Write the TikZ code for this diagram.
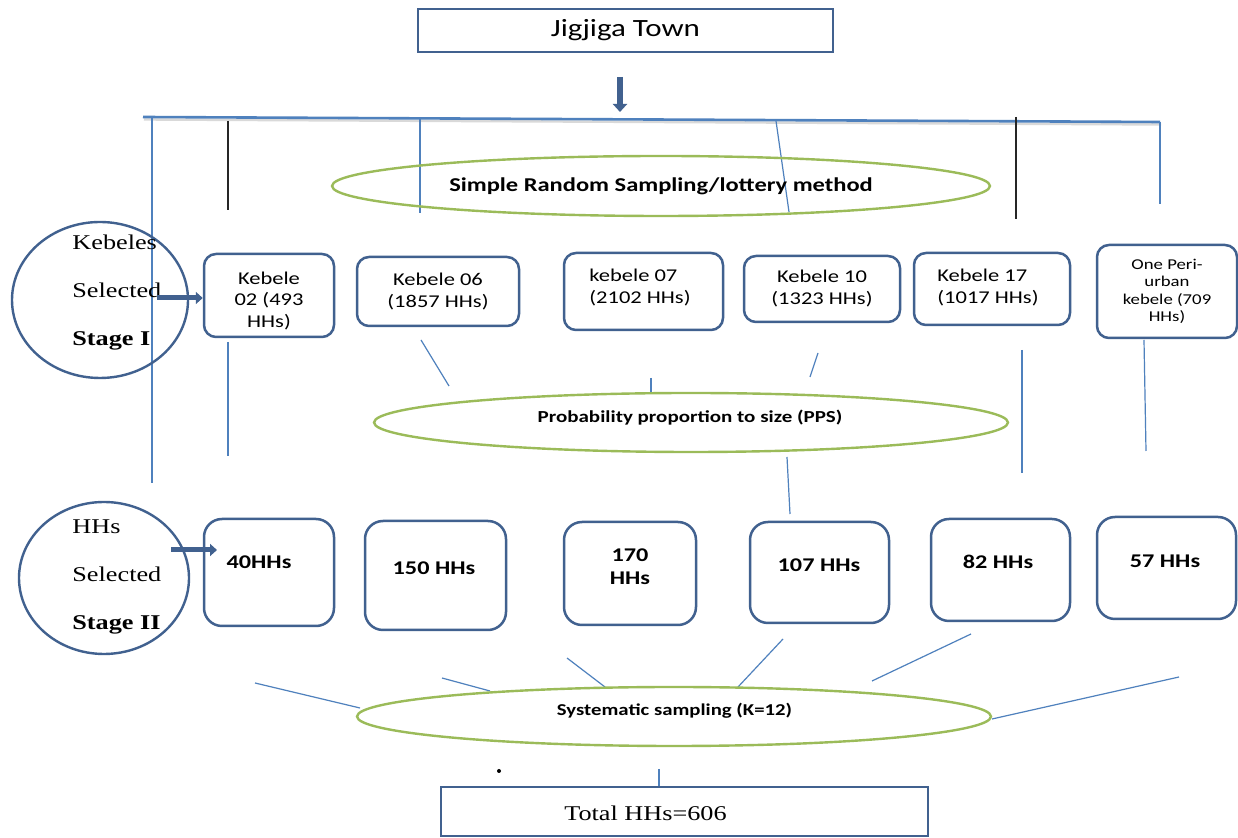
\documentclass[tikz,border=0pt]{standalone}
\usepackage{fontspec}
\setmainfont{Liberation Serif}[FakeStretch=1.25]
\newfontfamily\calfont{Carlito}[FakeStretch=1.25]
\usetikzlibrary{arrows.meta,shapes.geometric}
\definecolor{boxblue}{HTML}{41618F}
\definecolor{lineblue}{HTML}{4F81BD}
\definecolor{ellgreen}{HTML}{9BBB59}
\begin{document}
\begin{tikzpicture}[x=0.5pt,y=-0.5pt,
  kbox/.style={draw=boxblue,line width=1.25pt,rounded corners=6pt,inner sep=0pt,align=center,font=\calfont\fontsize{9}{11}\selectfont},
  hbox/.style={draw=boxblue,line width=1.25pt,rounded corners=9pt,inner sep=0pt},
  htext/.style={font=\calfont\bfseries\fontsize{9.7}{11.5}\selectfont,align=center,inner sep=0pt},
  ktext/.style={font=\calfont\fontsize{9}{11}\selectfont,align=left,inner sep=0pt,anchor=west},
  oval/.style={ellipse,draw=ellgreen,line width=1.2pt,inner sep=0pt},
  circ/.style={ellipse,draw=boxblue,line width=1.2pt,inner sep=0pt},
  ctext/.style={font=\fontsize{10.5}{24}\selectfont,align=left,inner sep=0pt,anchor=west},
  thinline/.style={draw=lineblue,line width=0.6pt},
  blkline/.style={draw=black!85,line width=0.7pt},
  fat/.style={draw=boxblue,line width=2.5pt,-{Triangle[width=6pt,length=3.5pt]}},
]
\useasboundingbox (0,0) rectangle (1238,838);
\fill[white] (0,0) rectangle (1238,838);

% top
\node[draw=boxblue,line width=1.25pt,minimum width=207.5pt,minimum height=21.5pt,inner sep=0pt,
  font=\calfont\fontsize{12.4}{14}\selectfont] (town) at (625.5,30.5) {Jigjiga Town};
\coordinate (ta) at (620,77);
\coordinate (tb) at (620,112);
\draw[draw=boxblue,line width=3pt,-{Triangle[width=7pt,length=4pt]}] (ta) -- (tb);

% horizontal bar with shadow
\draw[black!15,line width=1.2pt] (144,119.5) -- (1161,124.5);
\draw[lineblue,line width=1.3pt] (143,117) -- (1160,122);

% top verticals
\draw[thinline] (152,118) -- (152,483);
\draw[blkline] (228,121) -- (228,210);
\draw[thinline] (420,119) -- (420,213);
\draw[thinline] (776,121) -- (789,212);
\draw[blkline] (1016,117) -- (1016,219);
\draw[thinline] (1160,122) -- (1160,204);

% SRS ellipse
\node[oval,minimum width=329pt,minimum height=30pt,font=\calfont\bfseries\fontsize{9.8}{11}\selectfont] (srs) at (661,186) {Simple Random Sampling/lottery method};

% circle 1
\node[circ,minimum width=88pt,minimum height=78pt] (c1) at (100,300) {};
\node[ctext] (c1t) at (72,293) {Kebeles\\Selected\\\textbf{Stage I}};
\coordinate (a1) at (157,298);

% kebele boxes
\node[kbox,minimum width=65pt,minimum height=41.5pt] (k02) at (269,295.5) {};
\node[font=\calfont\fontsize{9}{10.75}\selectfont,align=center,inner sep=0pt] (k02t) at (269,301) {Kebele\\02 (493\\HHs)};
\node[kbox,minimum width=81pt,minimum height=34.5pt] (k06) at (438,291.5) {Kebele 06\\(1857 HHs)};
\node[kbox,minimum width=79.5pt,minimum height=38.5pt] (k07) at (643.5,291.5) {};
\node[ktext] (k07t) at (589,287.5) {kebele 07\\(2102 HHs)};
\node[kbox,minimum width=78pt,minimum height=33pt] (k10) at (822,289) {Kebele 10\\(1323 HHs)};
\node[kbox,minimum width=78pt,minimum height=36pt] (k17) at (992,289) {};
\node[ktext] (k17t) at (937,287.5) {Kebele 17\\(1017 HHs)};
\node[kbox,minimum width=70pt,minimum height=46.5pt,font=\calfont\fontsize{7.5}{8.7}\selectfont] (peri) at (1167,291.5) {One Peri-\\urban\\kebele (709\\HHs)};

\draw[fat] (a1) -- (a1 -| k02.west);

% middle lines
\draw[thinline] (228,342) -- (228,456);
\draw[thinline] (421,340) -- (449,386);
\draw[thinline] (651,378) -- (651,393);
\draw[thinline] (818,353) -- (810,377);
\draw[thinline] (1022,350) -- (1022,473);
\draw[thinline] (1144,340) -- (1146,451);

% PPS ellipse
\node[oval,minimum width=317pt,minimum height=29.5pt] (pps) at (691,422.5) {};
\node[font=\calfont\bfseries\fontsize{8.4}{10}\selectfont,inner sep=0pt] (ppst) at (690,418) {Probability proportion to size (PPS)};
\draw[thinline] (787,457) -- (790,514);

% circle 2
\node[circ,minimum width=85pt,minimum height=76pt] (c2) at (104,578) {};
\node[ctext] (c2t) at (72,577) {HHs\\Selected\\\textbf{Stage II}};
\coordinate (a2s) at (171,550);
\coordinate (a2e) at (217,550);
\draw[fat] (a2s) -- (a2e);

% HH boxes
\node[hbox,minimum width=65pt,minimum height=53.5pt] (h40) at (269,572.5) {};
\node[htext] (h40t) at (259,562) {40HHs};
\node[hbox,minimum width=70.5pt,minimum height=54.5pt] (h150) at (435.5,575.5) {};
\node[htext] (h150t) at (434,568) {150 HHs};
\node[hbox,minimum width=66pt,minimum height=51.5pt] (h170) at (630,573.5) {};
\node[htext] (h170t) at (630,566.5) {170\\HHs};
\node[hbox,minimum width=69.5pt,minimum height=50.5pt] (h107) at (819.5,572.5) {};
\node[htext] (h107t) at (819,565) {107 HHs};
\node[hbox,minimum width=69.5pt,minimum height=51pt] (h82) at (1000.5,570) {};
\node[htext] (h82t) at (998,562) {82 HHs};
\node[hbox,minimum width=69.5pt,minimum height=51pt] (h57) at (1166.5,568) {};
\node[htext] (h57t) at (1165,561) {57 HHs};

% lower lines
\draw[thinline] (255,683) -- (360,708);
\draw[thinline] (442,678) -- (490,691);
\draw[thinline] (567,658) -- (605,687);
\draw[thinline] (783,639) -- (738,687);
\draw[thinline] (971,634) -- (872,681);
\draw[thinline] (1179,677) -- (992,719);

% systematic ellipse
\node[oval,minimum width=317pt,minimum height=29.5pt] (sys) at (674,716.5) {};
\node[font=\calfont\bfseries\fontsize{8.3}{10}\selectfont,inner sep=0pt] (syst) at (674.5,711) {Systematic sampling (K=12)};

\fill[black] (499,771) circle (1pt);
\draw[thinline] (659,769) -- (659,787);

% total
\node[draw=boxblue,line width=1.25pt,minimum width=243.5pt,minimum height=24.5pt,inner sep=0pt] (tot) at (684.5,811.5) {};
\node[font=\fontsize{10.5}{12}\selectfont,inner sep=0pt] (tott) at (645.5,813) {Total HHs=606};
\end{tikzpicture}
\end{document}
